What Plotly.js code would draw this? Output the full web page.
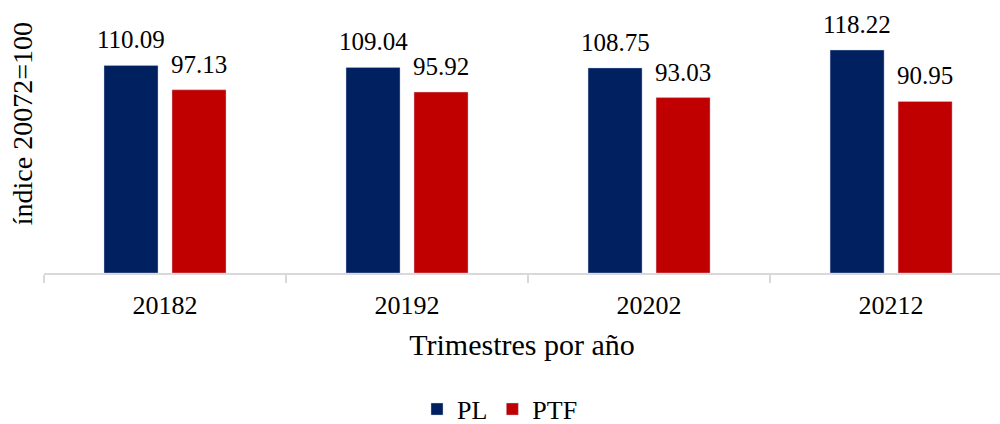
<!DOCTYPE html>
<html>
<head>
<meta charset="utf-8">
<script src="https://cdn.plot.ly/plotly-3.0.1.min.js"></script>
<style>html,body{margin:0;padding:0;background:#fff;}#chart{width:1000px;height:424px;}</style>
</head>
<body>
<div id="chart"></div>
<script>
const categories = ["20182", "20192", "20202", "20212"];
const plValues = [110.09, 109.04, 108.75, 118.22];
const ptfValues = [97.13, 95.92, 93.03, 90.95];
const seriesNames = ["PL", "PTF"];
const yTitle = "índice 20072=100";
const xTitle = "Trimestres por año";

const FONT = "Liberation Serif, serif";
const BARGAP = 0.438, BARGROUPGAP = 0.206;
const CAT_PX = 242;
const SLOT_PX = CAT_PX * (1 - BARGAP) / 2;

function barTrace(name, vals, color) {
  return {
    type: "bar",
    name: name,
    x: categories,
    y: vals,
    marker: {color: color, line: {color: "rgba(200,210,235,0.5)", width: 0.8}},
    hoverinfo: "skip"
  };
}

const data = [
  barTrace(seriesNames[0], plValues, "#002060"),
  barTrace(seriesNames[1], ptfValues, "#C00000")
];

// value labels: placed at each category's index on the category axis, shifted to its bar slot
function labelAnns(vals, shift) {
  return vals.map((v, i) => ({
    x: i, y: v, xref: "x", yref: "y",
    text: v.toFixed(2), showarrow: false,
    xanchor: "center", yanchor: "bottom",
    xshift: shift, yshift: 10,
    font: {family: FONT, size: 25, color: "#000"}
  }));
}

const layout = {
  width: 1000, height: 424,
  margin: {l: 44, r: 0, t: 9, b: 151, autoexpand: false},
  paper_bgcolor: "#fff", plot_bgcolor: "#fff",
  font: {family: FONT, color: "#000"},
  barmode: "group",
  bargap: BARGAP,
  bargroupgap: BARGROUPGAP,
  showlegend: true,
  legend: {orientation: "h", x: 0.5, xanchor: "center", xref: "container",
           y: 0.035, yanchor: "middle", yref: "container",
           font: {family: FONT, size: 26, color: "#000"}, itemwidth: 30},
  xaxis: {
    type: "category",
    range: [-0.5, 3.45],
    automargin: false,
    showline: true, linecolor: "#d9d9d9", linewidth: 2,
    ticks: "outside", tickson: "boundaries", ticklen: 8, tickcolor: "#d9d9d9", tickwidth: 2,
    ticklabelstandoff: 8,
    tickfont: {family: FONT, size: 26, color: "#000"},
    showgrid: false, zeroline: false,
    title: {text: xTitle, font: {family: FONT, size: 30, color: "#000"}, standoff: 15}
  },
  yaxis: {
    range: [0, 140], automargin: false,
    showticklabels: false, showgrid: false, zeroline: false, showline: false, ticks: ""
  },
  annotations: [
    ...labelAnns(plValues, -SLOT_PX / 2),
    ...labelAnns(ptfValues, SLOT_PX / 2),
    {
      text: yTitle, textangle: -90, showarrow: false,
      xref: "paper", yref: "paper", x: -0.004, xanchor: "right",
      y: 0.566, yanchor: "middle",
      font: {family: FONT, size: 28, color: "#000"}
    }
  ]
};

Plotly.newPlot("chart", data, layout, {staticPlot: true, displayModeBar: false});
</script>
</body>
</html>
